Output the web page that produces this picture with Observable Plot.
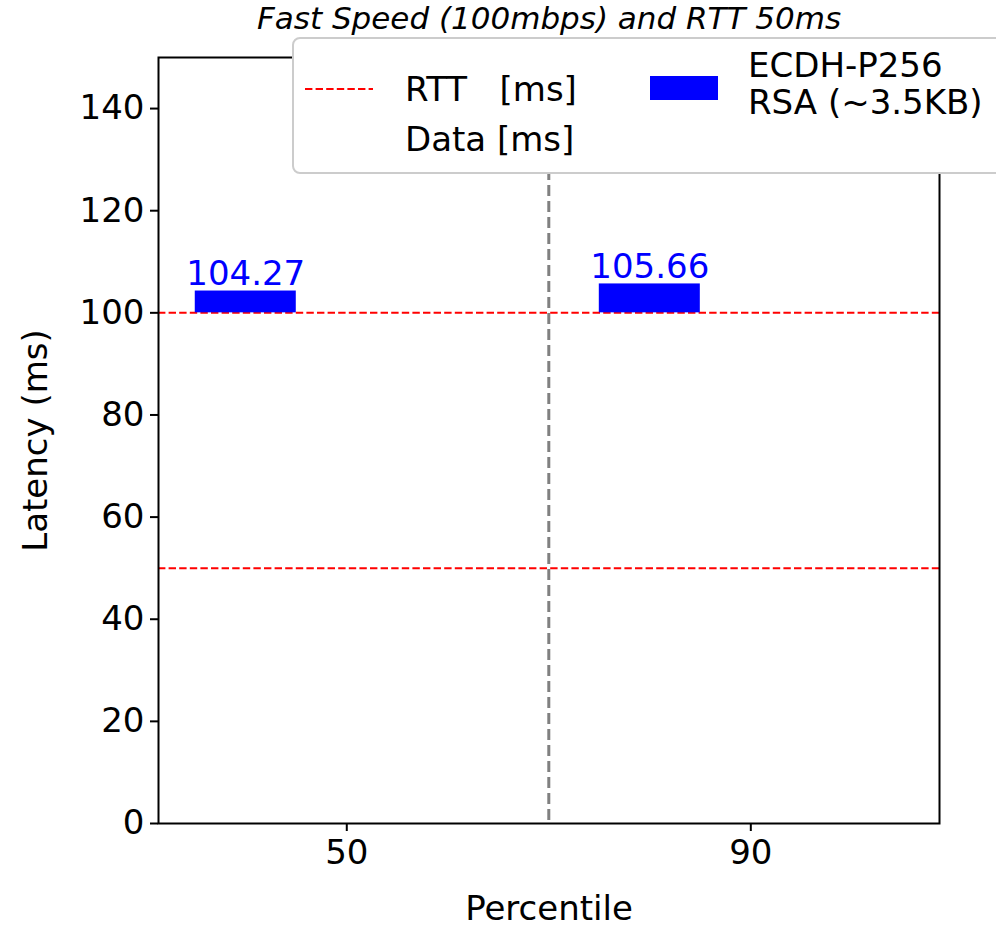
<!DOCTYPE html>
<html>
<head>
<meta charset="utf-8">
<script src="https://cdn.jsdelivr.net/npm/d3@7"></script>
<script src="https://cdn.jsdelivr.net/npm/@observablehq/plot@0.6"></script>
<style>
  html, body { margin: 0; padding: 0; background: white; }
  #wrap { position: relative; width: 996px; height: 928px; overflow: hidden; font-family: "DejaVu Sans", sans-serif; color: black; }
  #wrap svg { position: absolute; left: 0; top: 0; }
  .t { position: absolute; line-height: 1; white-space: pre; transform: translateY(-50%); }
  #title { position: absolute; left: 0; width: 1098px; text-align: center; top: 18px; transform: translateY(-50%); font-style: italic; font-size: 31px; line-height: 1; }
  #legend { position: absolute; left: 292px; top: 37px; width: 740px; height: 133px; border: 2px solid #cccccc; border-radius: 8px; background: white; }
</style>
</head>
<body>
<div id="wrap"></div>
<script>
const percentiles = ["50", "90"];
const latency = [104.27, 105.66];
const rttLines = [50, 100];
const baseline = 100;
const yTicks = [0, 20, 40, 60, 80, 100, 120, 140];
const seriesName = ["ECDH-P256", "RSA (~3.5KB)"];
const titleText = "Fast Speed (100mbps) and RTT 50ms";
const legendRTT = "RTT   [ms]";
const legendData = "Data [ms]";

const bars = percentiles.map((p, i) => ({i, p, v: latency[i]}));
const barW = 0.25;
const barOff = -0.25;

const fs = 34;
const chart = Plot.plot({
  width: 996,
  height: 928,
  marginLeft: 158,
  marginRight: 57,
  marginTop: 57,
  marginBottom: 105,
  style: {fontFamily: "DejaVu Sans", fontSize: fs + "px", color: "black", background: "white"},
  x: {type: "linear", domain: [-0.466, 1.467]},
  y: {domain: [0, 150]},
  marks: [
    Plot.ruleX([0.5], {stroke: "gray", strokeWidth: 3, strokeDasharray: "11,5"}),
    Plot.ruleY(rttLines, {stroke: "red", strokeWidth: 2, strokeDasharray: "7.4,3.2"}),
    Plot.rect(bars, {x1: d => d.i + barOff - barW / 2, x2: d => d.i + barOff + barW / 2, y1: baseline, y2: "v", fill: "blue"}),
    Plot.text(bars, {x: d => d.i + barOff, y: "v", text: d => d.v.toFixed(2), fill: "blue", fontSize: fs, lineAnchor: "bottom", dy: -6}),
    Plot.frame({stroke: "black", strokeWidth: 2}),
    Plot.axisY({ticks: yTicks, tickSize: 8, tickPadding: 6, fontSize: fs, strokeWidth: 2,
      label: "Latency (ms)", labelAnchor: "center", labelArrow: "none", labelOffset: 136}),
    Plot.axisX({ticks: [0, 1], tickFormat: i => percentiles[i], tickSize: 8, tickPadding: 8, fontSize: fs, strokeWidth: 2,
      label: "Percentile", labelAnchor: "center", labelArrow: "none", labelOffset: 96})
  ]
});

const wrap = document.getElementById("wrap");
wrap.appendChild(chart);

function addDiv(id, cls, text, style) {
  const d = document.createElement("div");
  if (id) d.id = id;
  if (cls) d.className = cls;
  if (text != null) d.textContent = text;
  Object.assign(d.style, style || {});
  wrap.appendChild(d);
  return d;
}
addDiv("title", null, titleText);
addDiv("legend", null, null);
const ns = "http://www.w3.org/2000/svg";
const ls = document.createElementNS(ns, "svg");
ls.setAttribute("width", 80); ls.setAttribute("height", 10);
ls.style.position = "absolute"; ls.style.left = "303px"; ls.style.top = "84px";
const ln = document.createElementNS(ns, "line");
ln.setAttribute("x1", 2); ln.setAttribute("x2", 70); ln.setAttribute("y1", 5); ln.setAttribute("y2", 5);
ln.setAttribute("stroke", "red"); ln.setAttribute("stroke-width", 2); ln.setAttribute("stroke-dasharray", "7.4,3.2");
ls.appendChild(ln);
wrap.appendChild(ls);
addDiv(null, "t", legendRTT, {left: "405px", top: "89px", fontSize: fs + "px"});
addDiv(null, "t", legendData, {left: "405px", top: "139px", fontSize: fs + "px"});
addDiv(null, null, null, {position: "absolute", left: "650px", top: "76px", width: "68px", height: "24px", background: "blue"});
addDiv(null, "t", seriesName[0], {left: "748px", top: "65px", fontSize: fs + "px"});
addDiv(null, "t", seriesName[1], {left: "748px", top: "102px", fontSize: fs + "px"});
</script>
</body>
</html>
